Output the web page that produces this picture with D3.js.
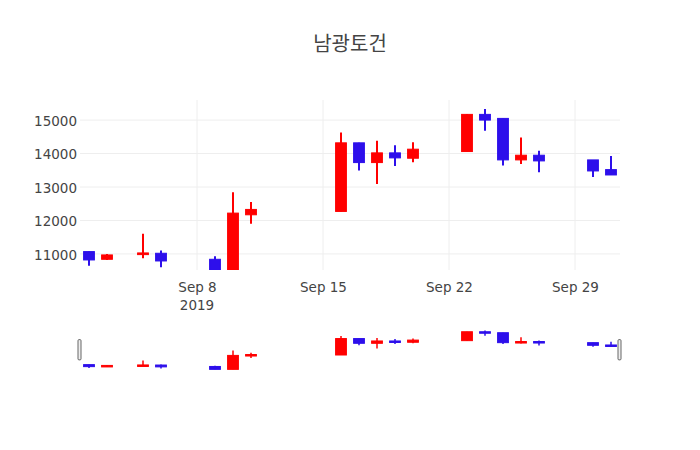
<!DOCTYPE html>
<html>
<head>
<meta charset="utf-8">
<script src="https://cdn.jsdelivr.net/npm/d3@7"></script>
<style>
  body { margin: 0; background: #fff; }
  svg { font-family: "DejaVu Sans", verdana, arial, sans-serif; }
</style>
</head>
<body>
<div id="chart"></div>
<script>
// trading days and OHLC values
const dates = ["2019-09-02", "2019-09-03", "2019-09-05", "2019-09-06", "2019-09-09", "2019-09-10", "2019-09-11",
    "2019-09-16", "2019-09-17", "2019-09-18", "2019-09-19", "2019-09-20",
    "2019-09-23", "2019-09-24", "2019-09-25", "2019-09-26", "2019-09-27", "2019-09-30", "2019-10-01"];
const openVals  = [11070, 10840, 10980, 11020, 10840, 10480, 12170, 12270, 14320, 13730, 14020, 13860, 14060, 15170, 15050, 13810, 13950, 13810, 13520];
const highVals  = [11070, 11000, 11600, 11100, 10930, 12840, 12550, 14630, 14320, 14380, 14250, 14340, 15180, 15330, 15050, 14480, 14080, 13810, 13930];
const lowVals   = [10650, 10820, 10870, 10600, 10480, 10480, 11900, 12270, 13490, 13090, 13630, 13740, 14060, 14680, 13640, 13690, 13440, 13300, 13360];
const closeVals = [10820, 10970, 11030, 10790, 10480, 12220, 12330, 14320, 13730, 14020, 13870, 14130, 15170, 15000, 13810, 13950, 13780, 13480, 13360];
const yTicks = [11000, 12000, 13000, 14000, 15000];
const xTicks = ["2019-09-08", "2019-09-15", "2019-09-22", "2019-09-29"];
const title = "남광토건";

const upColor = "#ff0000";
const downColor = "#2d0feb";
const tickFont = "13.5px";

const parse = d3.timeParse("%Y-%m-%d");
const data = dates.map((d, i) => ({
    date: parse(d), open: openVals[i], high: highVals[i], low: lowVals[i], close: closeVals[i]
}));

const W = 700, H = 450;
const margin = { left: 80, right: 80, top: 100 };
const plotBottom = 270;
const sliderTop = 329.5, sliderBottom = 370;

const svg = d3.select("#chart").append("svg")
    .attr("width", W)
    .attr("height", H);

// x range padded half a day on each side
const x = d3.scaleTime()
    .domain([new Date(2019, 8, 1, 12), new Date(2019, 9, 1, 12)])
    .range([margin.left, W - margin.right]);

const y = d3.scaleLinear()
    .domain([10520, 15600])
    .range([plotBottom, margin.top]);

const ySlider = d3.scaleLinear()
    .domain([10400, 15450])
    .range([sliderBottom, sliderTop]);

const dayPx = x(new Date(2019, 8, 3)) - x(new Date(2019, 8, 2));
const boxW = dayPx * 0.6;

// title
svg.append("text")
    .attr("x", W / 2)
    .attr("y", 51)
    .attr("text-anchor", "middle")
    .attr("font-family", '"Noto Sans CJK KR", sans-serif')
    .attr("font-size", "20px")
    .attr("fill", "#444")
    .text(title);

// grid
const grid = svg.append("g");
grid.selectAll(".ygrid")
    .data(yTicks)
    .enter().append("line")
    .attr("x1", margin.left)
    .attr("x2", W - margin.right)
    .attr("y1", d => y(d))
    .attr("y2", d => y(d))
    .attr("stroke", "#eee")
    .attr("stroke-width", 1);

grid.selectAll(".xgrid")
    .data(xTicks.map(parse))
    .enter().append("line")
    .attr("x1", d => x(d))
    .attr("x2", d => x(d))
    .attr("y1", margin.top)
    .attr("y2", plotBottom)
    .attr("stroke", "#eee")
    .attr("stroke-width", 1);

// y axis labels
const yAxis = svg.append("g")
    .attr("transform", `translate(${margin.left - 3},0)`)
    .call(d3.axisLeft(y).tickValues(yTicks).tickSize(0).tickPadding(0).tickFormat(d3.format("d")));
yAxis.select(".domain").remove();
yAxis.selectAll("text")
    .attr("dy", "0.4em")
    .attr("font-size", tickFont)
    .attr("fill", "#444")
    .attr("font-family", '"DejaVu Sans", verdana, arial, sans-serif');

// x axis labels, year only under first tick
const xAxis = svg.append("g")
    .attr("transform", `translate(0,${plotBottom})`)
    .call(d3.axisBottom(x).tickValues(xTicks.map(parse)).tickSize(0).tickPadding(0)
        .tickFormat(d3.timeFormat("%b %-d")));
xAxis.select(".domain").remove();
xAxis.selectAll("text")
    .attr("y", 22)
    .attr("dy", 0)
    .attr("font-size", tickFont)
    .attr("fill", "#444")
    .attr("font-family", '"DejaVu Sans", verdana, arial, sans-serif');

svg.append("text")
    .attr("x", x(parse(xTicks[0])))
    .attr("y", plotBottom + 40)
    .attr("text-anchor", "middle")
    .attr("font-size", tickFont)
    .attr("fill", "#444")
    .text("2019");

// clip for the main plot
svg.append("clipPath")
    .attr("id", "plotClip")
    .append("rect")
    .attr("x", margin.left)
    .attr("y", margin.top)
    .attr("width", W - margin.left - margin.right)
    .attr("height", plotBottom - margin.top);

function drawCandles(g, yScale, wickW) {
    const c = g.selectAll(".candle")
        .data(data)
        .enter().append("g")
        .attr("class", "candle");

    c.append("line")
        .attr("x1", d => x(d.date))
        .attr("x2", d => x(d.date))
        .attr("y1", d => yScale(d.high))
        .attr("y2", d => yScale(d.low))
        .attr("stroke", d => d.close >= d.open ? upColor : downColor)
        .attr("stroke-width", wickW);

    c.append("rect")
        .attr("x", d => x(d.date) - boxW / 2)
        .attr("width", boxW)
        .attr("y", d => yScale(Math.max(d.open, d.close)))
        .attr("height", d => Math.max(1.5, yScale(Math.min(d.open, d.close)) - yScale(Math.max(d.open, d.close))))
        .attr("fill", d => d.close >= d.open ? upColor : downColor)
        .attr("stroke", d => d.close >= d.open ? upColor : downColor)
        .attr("stroke-width", 1);
}

const main = svg.append("g").attr("clip-path", "url(#plotClip)");
drawCandles(main, y, 2);

// range slider
const slider = svg.append("g");
slider.append("rect")
    .attr("x", margin.left)
    .attr("y", sliderTop)
    .attr("width", W - margin.left - margin.right)
    .attr("height", sliderBottom - sliderTop)
    .attr("fill", "#fff");
drawCandles(slider, ySlider, 1.5);

const handleH = (sliderBottom - sliderTop) / 2;
slider.selectAll(".handle")
    .data(x.range())
    .enter().append("rect")
    .attr("x", d => d - 2)
    .attr("y", sliderTop + handleH / 2)
    .attr("width", 3)
    .attr("height", handleH)
    .attr("rx", 1)
    .attr("fill", "#eee")
    .attr("stroke", "#666")
    .attr("stroke-width", 1);
</script>
</body>
</html>
